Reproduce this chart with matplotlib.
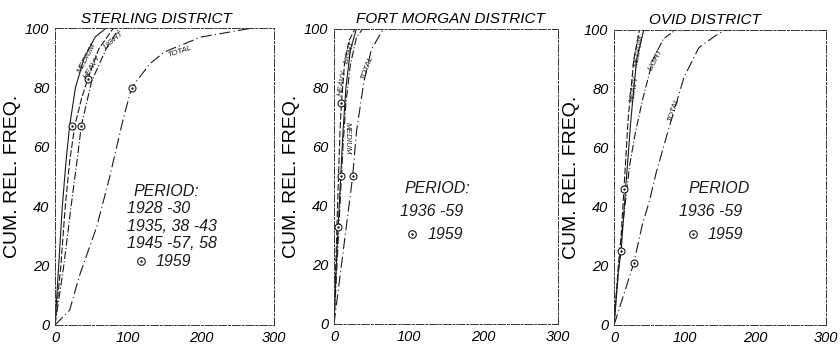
import matplotlib
matplotlib.use("Agg")
import matplotlib.pyplot as plt

plt.rcParams['font.family'] = ['Liberation Sans', 'DejaVu Sans']

# ---- data ----
titles = ["STERLING DISTRICT", "FORT MORGAN DISTRICT", "OVID DISTRICT"]

# Sterling
st_medium_x = [0, 5, 10, 15, 20, 28, 40, 55, 70]
st_medium_y = [0, 20, 40, 55, 67, 80, 90, 97, 100]
st_heavy_x = [0, 8, 14, 20, 27, 36, 45, 60, 80]
st_heavy_y = [0, 20, 40, 55, 67, 76, 83, 93, 100]
st_light_x = [0, 12, 22, 30, 36, 50, 70, 88]
st_light_y = [0, 20, 40, 55, 67, 82, 93, 100]
st_total_x = [0, 20, 34, 57, 75, 93, 105, 130, 150, 200, 270]
st_total_y = [0, 5, 17, 33, 50, 69, 80, 88, 92, 97, 100]
st_1959_x = [23, 36, 45, 105]
st_1959_y = [67, 67, 83, 80]

# Fort Morgan
fm_heavy_x = [0, 3, 6, 8, 10, 14, 20, 28]
fm_heavy_y = [0, 25, 50, 65, 75, 88, 96, 100]
fm_medium_x = [0, 4, 7, 9, 12, 16, 22, 30]
fm_medium_y = [0, 25, 40, 50, 65, 80, 93, 100]
fm_light_x = [0, 5, 9, 12, 16, 22, 30, 38]
fm_light_y = [0, 25, 45, 60, 75, 88, 97, 100]
fm_total_x = [0, 10, 20, 25, 30, 40, 50, 66]
fm_total_y = [0, 20, 40, 50, 65, 82, 93, 100]
fm_1959_x = [9, 9, 25, 5]
fm_1959_y = [75, 50, 50, 33]

# Ovid
ov_heavy_x = [0, 6, 10, 14, 20, 28, 36]
ov_heavy_y = [0, 20, 30, 46, 70, 90, 100]
ov_medium_x = [0, 6, 10, 16, 24, 32, 42]
ov_medium_y = [0, 18, 25, 45, 70, 90, 100]
ov_light_x = [0, 10, 22, 30, 40, 55, 70, 87]
ov_light_y = [0, 29, 54, 65, 76, 90, 97, 100]
ov_total_x = [0, 20, 28, 40, 50, 60, 78, 99, 120, 143, 157]
ov_total_y = [0, 15, 21, 34, 42, 52, 67, 84, 94, 98, 100]
ov_1959_x = [14, 10, 28]
ov_1959_y = [46, 25, 21]

period_head = ["PERIOD:", "PERIOD:", "PERIOD"]
period_years = [["1928 -30", "1935, 38 -43", "1945 -57, 58"],
                ["1936 -59"],
                ["1936 -59"]]

ink = "#1a1a1a"
styles = {"medium": (0, ()), "heavy": (0, (6, 2)), "light": (0, (7, 2, 1, 2)),
          "total": (0, (10, 3, 1, 3))}

fig = plt.figure(figsize=(8.4, 3.46), dpi=100)
boxes = [[0.0655, 0.0607, 0.2607, 0.858],
         [0.3976, 0.0636, 0.2667, 0.8526],
         [0.731, 0.0607, 0.2524, 0.8526]]
axes = [fig.add_axes(b) for b in boxes]

panels = [
    [(st_medium_x, st_medium_y, "medium"), (st_heavy_x, st_heavy_y, "heavy"),
     (st_light_x, st_light_y, "light"), (st_total_x, st_total_y, "total")],
    [(fm_heavy_x, fm_heavy_y, "heavy"), (fm_medium_x, fm_medium_y, "medium"),
     (fm_light_x, fm_light_y, "light"), (fm_total_x, fm_total_y, "total")],
    [(ov_heavy_x, ov_heavy_y, "heavy"), (ov_medium_x, ov_medium_y, "medium"),
     (ov_light_x, ov_light_y, "light"), (ov_total_x, ov_total_y, "total")],
]
circles = [(st_1959_x, st_1959_y), (fm_1959_x, fm_1959_y), (ov_1959_x, ov_1959_y)]

# curve labels: (text, x, y, rotation)
curve_labels = [
    [("MEDIUM", 44, 90, 62), ("HEAVY", 52, 87, 58), ("LIGHT", 80, 96, 40), ("TOTAL", 171, 92, 18)],
    [("HEAVY", 11, 82, 80), ("LIGHT", 21, 92, 72), ("TOTAL", 44, 87, 70), ("MEDIUM", 18, 63, -90)],
    [("HEAVY", 29, 80, 80), ("MEDIUM", 36, 93, 80), ("LIGHT", 60, 90, 62), ("TOTAL", 85, 73, 72)],
]
# left x of the year lines, head line and the 1959 key, in data units
period_x = [98, 88, 92]
head_x = [107, 95, 105]
head_y = [45, 46, 46.4]
line_step = [5.9, 7.8, 7.8]
key_x = [118, 105, 112]
title_x = [0.465, 0.518, 0.43]

for i, ax in enumerate(axes):
    for xs, ys, kind in panels[i]:
        ax.plot(xs, ys, color=ink, lw=0.8, linestyle=styles[kind])
    cx, cy = circles[i]
    ax.plot(cx, cy, "o", mfc="white", mec=ink, ms=5, mew=0.8)
    ax.plot(cx, cy, ".", color=ink, ms=1.5)
    for t, x, y, r in curve_labels[i]:
        ax.text(x, y, t, fontsize=5.8, style="italic", rotation=r,
                ha="center", va="center", color=ink)
    ax.set_xlim(0, 300)
    ax.set_ylim(0, 100)
    ax.set_xticks([0, 100, 200, 300])
    ax.set_yticks([0, 20, 40, 60, 80, 100])
    ax.tick_params(length=0, labelsize=10.5, pad=4)
    for lab in ax.get_xticklabels() + ax.get_yticklabels():
        lab.set_style("italic")
    for s in ax.spines.values():
        s.set_linestyle((0, (8, 2, 2, 2)))
        s.set_linewidth(0.7)
        s.set_color("#333333")
    ax.set_title(titles[i], fontsize=11, style="italic", pad=4, x=title_x[i])
    ax.set_ylabel("CUM. REL. FREQ.", fontsize=14, labelpad=3)

    ax.text(head_x[i], head_y[i], period_head[i], fontsize=11.5,
            style="italic", ha="left", va="center", color=ink)
    yy = head_y[i]
    for t in period_years[i]:
        yy -= line_step[i]
        ax.text(period_x[i], yy, t, fontsize=11.5, style="italic",
                ha="left", va="center", color=ink)
    yy -= line_step[i]
    ax.plot([key_x[i]], [yy], "o", mfc="white", mec=ink, ms=5.5, mew=0.8)
    ax.plot([key_x[i]], [yy], ".", color=ink, ms=1.5)
    ax.text(key_x[i] + 20, yy, "1959", fontsize=11.5, style="italic",
            ha="left", va="center", color=ink)

fig.savefig("out.png", dpi=100)
